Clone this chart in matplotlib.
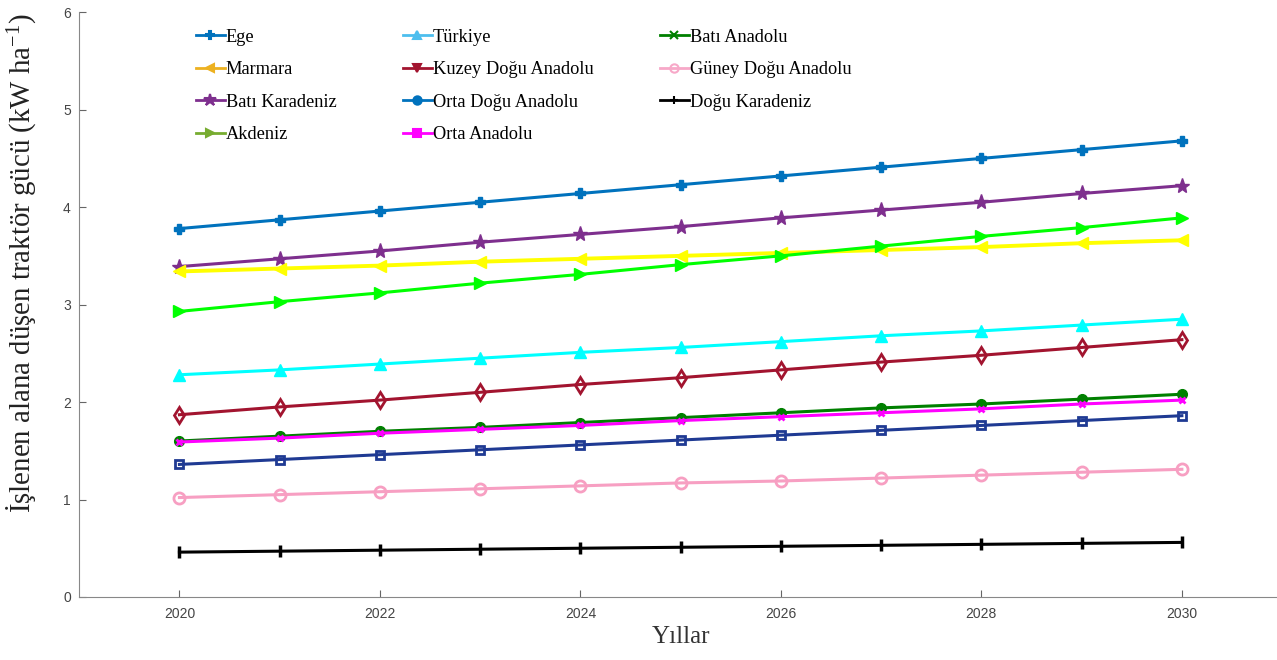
import matplotlib
matplotlib.use("Agg")
import matplotlib.pyplot as plt
from matplotlib.lines import Line2D

# Yıllar ve bölgelere göre işlenen alana düşen traktör gücü (kW/ha)
yillar = list(range(2020, 2031))

ege = [3.78, 3.87, 3.96, 4.05, 4.14, 4.23, 4.32, 4.41, 4.50, 4.59, 4.68]
bati_karadeniz = [3.39, 3.47, 3.55, 3.64, 3.72, 3.80, 3.89, 3.97, 4.05, 4.14, 4.22]
marmara = [3.34, 3.37, 3.40, 3.44, 3.47, 3.50, 3.53, 3.56, 3.59, 3.63, 3.66]
akdeniz = [2.93, 3.03, 3.12, 3.22, 3.31, 3.41, 3.50, 3.60, 3.70, 3.79, 3.89]
turkiye = [2.28, 2.33, 2.39, 2.45, 2.51, 2.56, 2.62, 2.68, 2.73, 2.79, 2.85]
kuzey_dogu = [1.87, 1.95, 2.02, 2.10, 2.18, 2.25, 2.33, 2.41, 2.48, 2.56, 2.64]
bati_anadolu = [1.60, 1.65, 1.70, 1.74, 1.79, 1.84, 1.89, 1.94, 1.98, 2.03, 2.08]
orta_anadolu = [1.59, 1.63, 1.68, 1.72, 1.76, 1.81, 1.85, 1.89, 1.93, 1.98, 2.02]
orta_dogu = [1.36, 1.41, 1.46, 1.51, 1.56, 1.61, 1.66, 1.71, 1.76, 1.81, 1.86]
guney_dogu = [1.02, 1.05, 1.08, 1.11, 1.14, 1.17, 1.19, 1.22, 1.25, 1.28, 1.31]
dogu_karadeniz = [0.46, 0.47, 0.48, 0.49, 0.50, 0.51, 0.52, 0.53, 0.54, 0.55, 0.56]

serif = ["Liberation Serif", "DejaVu Serif"]
plt.rcParams["mathtext.fontset"] = "custom"
plt.rcParams["mathtext.rm"] = "Liberation Serif"
plt.rcParams["mathtext.default"] = "regular"

fig = plt.figure(figsize=(12.77, 6.6), dpi=100)
ax = fig.add_axes([0.062, 0.0955, 0.942, 0.886])

lw = 2.2
ms = 7
# eğriler
ax.plot(yillar, ege, color="#0072BD", lw=lw, marker="P", ms=ms)
ax.plot(yillar, bati_karadeniz, color="#7E2F8E", lw=lw, marker="*", ms=ms + 4)
ax.plot(yillar, marmara, color="#FFFF00", lw=lw + 0.6, marker="<", ms=ms + 2)
ax.plot(yillar, akdeniz, color="#00FF00", lw=lw, marker=">", ms=ms + 2)
ax.plot(yillar, turkiye, color="#00FFFF", lw=lw, marker="^", ms=ms + 1)
ax.plot(yillar, kuzey_dogu, color="#A2142F", lw=lw, marker="d", ms=ms + 1,
        mfc="none", mew=2)
ax.plot(yillar, bati_anadolu, color="#008000", lw=lw, marker="o", ms=ms)
ax.plot(yillar, orta_anadolu, color="#FF00FF", lw=lw, marker="x", ms=ms - 2, mew=2)
ax.plot(yillar, orta_dogu, color="#1F3A93", lw=lw, marker="s", ms=ms - 1,
        mfc="none", mew=2)
ax.plot(yillar, guney_dogu, color="#F79FC2", lw=lw, marker="o", ms=ms + 1,
        mfc="none", mew=2)
ax.plot(yillar, dogu_karadeniz, color="black", lw=lw, marker="|", ms=ms + 1, mew=2.5)

# lejant
etiketler = ["Ege", "Marmara", "Batı Karadeniz", "Akdeniz",
             "Türkiye", "Kuzey Doğu Anadolu", "Orta Doğu Anadolu", "Orta Anadolu",
             "Batı Anadolu", "Güney Doğu Anadolu", "Doğu Karadeniz"]
stiller = [("#0072BD", "P"), ("#EDB120", "<"), ("#7E2F8E", "*"), ("#77AC30", ">"),
           ("#4DBEEE", "^"), ("#A2142F", "v"), ("#0072BD", "o"), ("#FF00FF", "s"),
           ("#008000", "x"), ("#F7A8C8", "o"), ("#000000", "+")]
tutamaclar = []
for renk, m in stiller:
    mfc = "none" if renk == "#F7A8C8" else renk
    boy = 9 if m == "*" else 6
    tutamaclar.append(Line2D([], [], color=renk, lw=2, marker=m, ms=boy, mfc=mfc, mew=1.5))
tutamaclar.insert(11, Line2D([], [], color="none"))
etiketler.insert(11, "")
leg = ax.legend(tutamaclar, etiketler, ncol=3, frameon=False, loc="upper left",
                bbox_to_anchor=(0.083, 1.0), handlelength=1.6, handletextpad=0.05,
                columnspacing=3.6, labelspacing=0.85,
                prop={"family": serif, "size": 13.2})

ax.set_xlim(2019, 2031)
ax.set_ylim(0, 6)
ax.set_xticks(range(2020, 2031, 2))
ax.set_yticks(range(0, 7))
ax.tick_params(direction="in", length=5, labelsize=10, colors="#666666",
               labelcolor="#444444")
ax.tick_params(axis="x", pad=7)
ax.tick_params(axis="y", pad=6)
for t in ax.get_xticklabels() + ax.get_yticklabels():
    t.set_family(["Liberation Sans", "DejaVu Sans"])
for s in ("top", "right"):
    ax.spines[s].set_visible(False)
for s in ("left", "bottom"):
    ax.spines[s].set_color("#888888")

ax.set_xlabel("Yıllar", family=serif, fontsize=18, color="#333333", labelpad=4)
ax.set_ylabel("İşlenen alana düşen traktör gücü (kW ha$^{-1}$)", family=serif,
              fontsize=20.8, color="#222222")
ax.yaxis.set_label_coords(-0.034, 0.571)

fig.savefig("out.png", dpi=100)
